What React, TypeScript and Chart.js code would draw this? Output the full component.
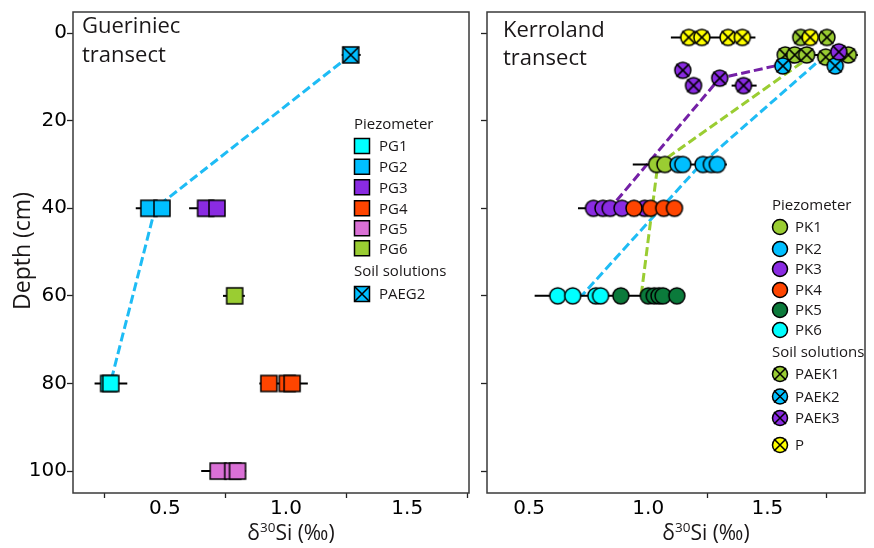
import { useEffect, useRef } from "react";
import { Chart, registerables } from "chart.js";
Chart.register(...registerables);

// ---------------- data ----------------
const DEPTH_TICKS = [0, 20, 40, 60, 80, 100];
const X_LABELLED = [0.5, 1.0, 1.5];
const G_MINOR = [0.25, 0.75, 1.25, 1.75];
const K_MINOR = [1.25, 1.75];

// Gueriniec transect (x = δ30Si, d = depth cm)
const PG1_X = [0.268, 0.277]; const PG1_D = [80, 80]; const PG1_ERR = [0.21, 0.345, 80];
const PG2_X = [0.434, 0.488]; const PG2_D = [40, 40]; const PG2_ERR = [0.38, 0.52, 40];
const PG3_X = [0.668, 0.715]; const PG3_D = [40, 40]; const PG3_ERR = [0.6, 0.7, 40];
const PG4_X = [0.929, 1.005, 1.025]; const PG4_D = [80, 80, 80]; const PG4_ERR = [0.89, 1.09, 80];
const PG5_X = [0.72, 0.78, 0.8]; const PG5_D = [100, 100, 100]; const PG5_ERR = [0.65, 0.835, 100];
const PG6_X = [0.788]; const PG6_D = [60]; const PG6_ERR = [0.74, 0.83, 60];
const PAEG2_X = [1.267]; const PAEG2_D = [5]; const PAEG2_ERR = [1.23, 1.308, 5];
const G_LINE_X = [1.267, 0.46, 0.275]; const G_LINE_D = [5, 40, 80];

// Kerroland transect
const P_X = [1.17, 1.225, 1.335, 1.395, 1.68]; const P_D = [1, 1, 1, 1, 1]; const P_ERR = [1.095, 1.45, 1];
const PAEK1_X = [1.64, 1.75, 1.575, 1.615, 1.665, 1.745, 1.84]; const PAEK1_D = [1, 1, 5, 5, 5, 5.5, 5]; const PAEK1_ERR = [1.57, 1.88, 5];
const PAEK2_X = [1.565, 1.785]; const PAEK2_D = [7.5, 7.5];
const PAEK3_X = [1.145, 1.19, 1.3, 1.4, 1.8]; const PAEK3_D = [8.5, 12, 10.3, 12, 4.3]; const PAEK3_ERR = [1.35, 1.455, 12];
const PK1_X = [1.035, 1.07]; const PK1_D = [30, 30];
const PK2_X = [1.125, 1.145, 1.23, 1.265, 1.29]; const PK2_D = [30, 30, 30, 30, 30]; const PK2_ERR = [0.935, 1.33, 30];
const PK3_X = [0.77, 0.81, 0.84, 0.89, 0.985]; const PK3_D = [40, 40, 40, 40, 40]; const PK3_ERR = [0.705, 1.11, 40];
const PK4_X = [0.94, 1.01, 1.065, 1.11]; const PK4_D = [40, 40, 40, 40];
const PK5_X = [0.885, 1.0, 1.025, 1.045, 1.062, 1.12]; const PK5_D = [60, 60, 60, 60, 60, 60]; const PK5_ERR = [0.523, 1.15, 60];
const PK6_X = [0.62, 0.683, 0.78, 0.8]; const PK6_D = [60, 60, 60, 60];
const K3_LINE_X = [1.8, 1.3, 0.84]; const K3_LINE_D = [4.3, 10.3, 40];
const K1_LINE_X = [1.69, 1.04, 0.97]; const K1_LINE_D = [5, 30, 60];
const K2_LINE_X = [1.745, 1.22, 0.72]; const K2_LINE_D = [5, 30, 60];

const G_LEGEND = ["PG1", "PG2", "PG3", "PG4", "PG5", "PG6"];
const K_LEGEND = ["PK1", "PK2", "PK3", "PK4", "PK5", "PK6"];
const K_SOIL_LEGEND = ["PAEK1", "PAEK2", "PAEK3", "P"];

// ---------------- styles ----------------
const C = {
  cyan: "#00ffff",
  sky: "#00bfff",
  purple: "#8a2be2",
  orange: "#ff4500",
  pink: "#da70d6",
  green: "#9acd32",
  dark: "#0b7a3b",
  yellow: "#ffff00",
};
const TEXT = "#1a1718";
const SANS = '"Open Sans"';

type Shape = "circle" | "square";

function drawMarker(ctx: CanvasRenderingContext2D, x: number, y: number, shape: Shape, size: number, fill: string, cross: boolean) {
  ctx.save();
  ctx.fillStyle = fill;
  ctx.strokeStyle = "#000";
  ctx.lineWidth = 1.5;
  ctx.beginPath();
  if (shape === "circle") ctx.arc(x, y, size, 0, Math.PI * 2);
  else ctx.rect(x - size, y - size, size * 2, size * 2);
  ctx.fill();
  ctx.stroke();
  if (cross) {
    const c = shape === "circle" ? size * 0.8 : size;
    ctx.beginPath();
    ctx.moveTo(x - c, y - c);
    ctx.lineTo(x + c, y + c);
    ctx.moveTo(x + c, y - c);
    ctx.lineTo(x - c, y + c);
    ctx.stroke();
  }
  ctx.restore();
}

function markerImg(shape: Shape, size: number, fill: string, cross: boolean) {
  const s = Math.ceil(size * 2 + 6);
  const cv = document.createElement("canvas");
  cv.width = s;
  cv.height = s;
  drawMarker(cv.getContext("2d")!, s / 2, s / 2, shape, size, fill, cross);
  return cv;
}

const pts = (xs: number[], ds: number[]) => xs.map((x, i) => ({ x, y: ds[i] }));

function markers(xs: number[], ds: number[], shape: Shape, fill: string, cross: boolean) {
  const size = shape === "circle" ? 8 : 8;
  return {
    data: pts(xs, ds),
    pointStyle: markerImg(shape, size, fill, cross),
    pointRadius: 8,
    showLine: false,
  };
}

function errBar(e: number[]) {
  return {
    data: [{ x: e[0], y: e[2] }, { x: e[1], y: e[2] }],
    showLine: true,
    borderColor: "#000",
    borderWidth: 2,
    pointRadius: 0,
  };
}

function dashLine(xs: number[], ds: number[], color: string) {
  return {
    data: pts(xs, ds),
    showLine: true,
    borderColor: color,
    borderWidth: 3,
    borderDash: [9, 4],
    pointRadius: 0,
  };
}

function drawDelta(ctx: CanvasRenderingContext2D, cx: number, baseline: number) {
  ctx.save();
  ctx.fillStyle = TEXT;
  ctx.textBaseline = "alphabetic";
  ctx.textAlign = "left";
  const big = `21px ${SANS}`;
  const small = `13.5px ${SANS}`;
  ctx.font = big;
  const w1 = ctx.measureText("δ").width;
  const w3 = ctx.measureText("Si (‰)").width;
  ctx.font = small;
  const w2 = ctx.measureText("30").width;
  let x = cx - (w1 + w2 + w3) / 2;
  ctx.font = big;
  ctx.fillText("δ", x, baseline);
  x += w1;
  ctx.font = small;
  ctx.fillText("30", x, baseline - 8);
  x += w2;
  ctx.font = big;
  ctx.fillText("Si (‰)", x, baseline);
  ctx.restore();
}

function xScale(min: number, max: number, minor: number[], showLabels = true) {
  const all = [...minor, ...X_LABELLED].sort((a, b) => a - b).filter((v) => v >= min && v <= max);
  const isMajor = (v: number) => X_LABELLED.some((m) => Math.abs(m - v) < 1e-6);
  return {
    type: "linear" as const,
    min,
    max,
    afterBuildTicks: (s: any) => {
      s.ticks = all.map((v) => ({ value: v }));
    },
    afterFit: (s: any) => {
      s.height = 55;
    },
    border: { display: false },
    grid: {
      drawOnChartArea: false,
      drawTicks: true,
      tickLength: 5,
      tickWidth: 1.3,
      tickColor: (ctx: any) => (ctx.tick && isMajor(ctx.tick.value) ? "rgba(0,0,0,0)" : "#222"),
    },
    ticks: {
      display: showLabels,
      autoSkip: false,
      maxRotation: 0,
      padding: 1,
      color: "#000",
      font: { family: "DejaVu Sans", size: 20, lineHeight: 1 },
      callback: (v: any) => (isMajor(Number(v)) ? Number(v).toFixed(1) : ""),
    },
  };
}

function yScale(width: number, labels: boolean) {
  return {
    type: "linear" as const,
    reverse: true,
    min: -4.8,
    max: 105,
    afterBuildTicks: (s: any) => {
      s.ticks = DEPTH_TICKS.map((v) => ({ value: v }));
    },
    afterFit: (s: any) => {
      s.width = width;
    },
    border: { display: false },
    grid: { drawOnChartArea: false, drawTicks: true, tickLength: 6, tickWidth: 1.3, tickColor: "#222" },
    ticks: {
      display: labels,
      padding: 0,
      color: "#000",
      font: { family: "DejaVu Sans", size: 20, lineHeight: 1 },
    },
  };
}

function boxPlugin(draw: (ctx: CanvasRenderingContext2D) => void) {
  return {
    id: "decor",
    afterDraw(chart: any) {
      const ctx = chart.ctx as CanvasRenderingContext2D;
      const a = chart.chartArea;
      ctx.save();
      ctx.strokeStyle = "#3a3a3a";
      ctx.lineWidth = 1.5;
      ctx.strokeRect(a.left, a.top, a.right - a.left, a.bottom - a.top);
      ctx.restore();
      draw(ctx);
    },
  };
}

function text(ctx: CanvasRenderingContext2D, s: string, x: number, y: number, font: string, baseline: CanvasTextBaseline = "middle") {
  ctx.save();
  ctx.fillStyle = TEXT;
  ctx.font = font;
  ctx.textAlign = "left";
  ctx.textBaseline = baseline;
  ctx.fillText(s, x, y);
  ctx.restore();
}

function buildLeft(): any {
  const legendColors = [C.cyan, C.sky, C.purple, C.orange, C.pink, C.green];
  const bottomToTop = [
    dashLine(G_LINE_X, G_LINE_D, "#1ebcf5"),
    errBar(PG1_ERR), errBar(PG2_ERR), errBar(PG3_ERR), errBar(PG4_ERR), errBar(PG5_ERR), errBar(PG6_ERR), errBar(PAEG2_ERR),
    markers(PG1_X, PG1_D, "square", C.cyan, false),
    markers(PG2_X, PG2_D, "square", C.sky, false),
    markers(PG3_X, PG3_D, "square", C.purple, false),
    markers(PG4_X, PG4_D, "square", C.orange, false),
    markers(PG5_X, PG5_D, "square", C.pink, false),
    markers(PG6_X, PG6_D, "square", C.green, false),
    markers(PAEG2_X, PAEG2_D, "square", C.sky, true),
  ];
  return {
    type: "scatter",
    data: { datasets: bottomToTop.reverse() },
    options: {
      animation: false,
      responsive: false,
      devicePixelRatio: 1,
      events: [],
      layout: { padding: { top: 12, right: 8, left: 0, bottom: 0 } },
      plugins: { legend: { display: false }, tooltip: { enabled: false } },
      scales: { x: xScale(0.121, 1.755, G_MINOR), y: yScale(73, true) },
    },
    plugins: [
      boxPlugin((ctx) => {
        text(ctx, "Gueriniec", 82, 33, `22px ${SANS}`, "alphabetic");
        text(ctx, "transect", 82, 62, `22px ${SANS}`, "alphabetic");
        const lf = `15px ${SANS}`;
        text(ctx, "Piezometer", 354, 125, lf);
        const ys = [146, 166.7, 187.3, 208.3, 228.3, 248.3];
        G_LEGEND.forEach((n, i) => {
          drawMarker(ctx, 362, ys[i], "square", 7.5, legendColors[i], false);
          text(ctx, n, 379, ys[i] + 1, lf);
        });
        text(ctx, "Soil solutions", 354, 272, lf);
        drawMarker(ctx, 362, 294, "square", 7.5, C.sky, true);
        text(ctx, "PAEG2", 379, 295, lf);
        // axis titles
        ctx.save();
        ctx.translate(23, 251);
        ctx.rotate(-Math.PI / 2);
        ctx.fillStyle = TEXT;
        ctx.font = `23px ${SANS}`;
        ctx.textAlign = "center";
        ctx.textBaseline = "middle";
        ctx.fillText("Depth (cm)", 0, 0);
        ctx.restore();
        drawDelta(ctx, 291, 540);
      }),
    ],
  };
}

function buildRight(): any {
  const legendColors = [C.green, C.sky, C.purple, C.orange, C.dark, C.cyan];
  const soilColors = [C.green, C.sky, C.purple, C.yellow];
  const bottomToTop = [
    dashLine(K2_LINE_X, K2_LINE_D, "#1ebcf5"),
    dashLine(K1_LINE_X, K1_LINE_D, "#9acd32"),
    dashLine(K3_LINE_X, K3_LINE_D, "#7420a6"),
    errBar(P_ERR), errBar(PAEK1_ERR), errBar(PAEK3_ERR), errBar(PK2_ERR), errBar(PK3_ERR), errBar(PK5_ERR),
    markers(PK6_X, PK6_D, "circle", C.cyan, false),
    markers(PK5_X, PK5_D, "circle", C.dark, false),
    markers(PK1_X, PK1_D, "circle", C.green, false),
    markers(PK2_X, PK2_D, "circle", C.sky, false),
    markers(PK3_X, PK3_D, "circle", C.purple, false),
    markers(PK4_X, PK4_D, "circle", C.orange, false),
    markers(PAEK1_X, PAEK1_D, "circle", C.green, true),
    markers(P_X, P_D, "circle", C.yellow, true),
    markers(PAEK2_X, PAEK2_D, "circle", C.sky, true),
    markers(PAEK3_X, PAEK3_D, "circle", C.purple, true),
  ];
  return {
    type: "scatter",
    data: { datasets: bottomToTop.reverse() },
    options: {
      animation: false,
      responsive: false,
      devicePixelRatio: 1,
      events: [],
      layout: { padding: { top: 12, right: 1, left: 0, bottom: 0 } },
      plugins: { legend: { display: false }, tooltip: { enabled: false } },
      scales: { x: xScale(0.323, 1.91, K_MINOR), y: yScale(9, false) },
    },
    plugins: [
      boxPlugin((ctx) => {
        // ctx origin is canvas at page x=478
        text(ctx, "Kerroland", 503 - 478, 37, `22px ${SANS}`, "alphabetic");
        text(ctx, "transect", 503 - 478, 65, `22px ${SANS}`, "alphabetic");
        const lf = `15px ${SANS}`;
        const mx = 780 - 478;
        const tx = 795 - 478;
        text(ctx, "Piezometer", 772 - 478, 206, lf);
        const ys = [227, 249, 269, 290, 310, 330];
        K_LEGEND.forEach((n, i) => {
          drawMarker(ctx, mx, ys[i], "circle", 7.5, legendColors[i], false);
          text(ctx, n, tx, ys[i] + 1, lf);
        });
        text(ctx, "Soil solutions", 772 - 478, 353, lf);
        const sy = [374, 396.5, 418, 445];
        K_SOIL_LEGEND.forEach((n, i) => {
          drawMarker(ctx, mx, sy[i], "circle", 7.5, soilColors[i], true);
          text(ctx, n, tx, sy[i] + 1, lf);
        });
        drawDelta(ctx, 706 - 478, 540);
      }),
    ],
  };
}

export default function App() {
  const leftRef = useRef<HTMLCanvasElement>(null);
  const rightRef = useRef<HTMLCanvasElement>(null);
  useEffect(() => {
    const c1 = new Chart(leftRef.current!, buildLeft());
    const c2 = new Chart(rightRef.current!, buildRight());
    return () => {
      c1.destroy();
      c2.destroy();
    };
  }, []);
  return (
    <div style={{ position: "absolute", left: 0, top: 0, width: 874, height: 548, background: "#fff" }}>
      <canvas ref={leftRef} width={478} height={548} style={{ position: "absolute", left: 0, top: 0, width: 478, height: 548 }} />
      <canvas ref={rightRef} width={396} height={548} style={{ position: "absolute", left: 478, top: 0, width: 396, height: 548 }} />
    </div>
  );
}
